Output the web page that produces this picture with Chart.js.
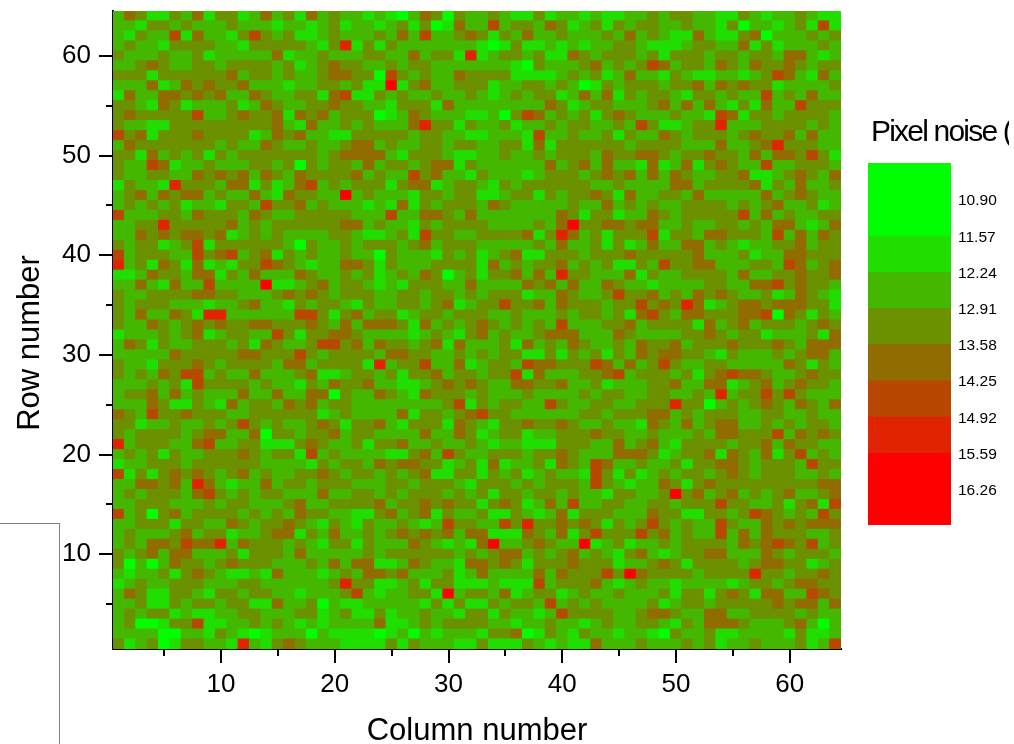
<!DOCTYPE html>
<html>
<head>
<meta charset="utf-8">
<title>Pixel noise</title>
<script src="https://cdn.jsdelivr.net/npm/chart.js@4/dist/chart.umd.min.js"></script>
<style>
html, body { margin: 0; padding: 0; background: #fff; overflow: hidden; }
#page { position: relative; width: 1014px; height: 744px; }
#heat { position: absolute; left: 0; top: 0; }
#bar { position: absolute; left: 860px; top: 150px; }
#barTitle { position: absolute; left: 871px; top: 114px; width: 138px; height: 40px; overflow: hidden; white-space: nowrap;
    font: 30px "Liberation Sans", Arial, sans-serif; letter-spacing: -1.8px; color: #000; }
#frameTop { position: absolute; left: 0; top: 523px; width: 60px; height: 1px; background: #808080; }
#frameSide { position: absolute; left: 59px; top: 523px; width: 1px; height: 221px; background: #808080; }
</style>
</head>
<body>
<div id="page">
    <canvas id="heat" width="1014" height="744"></canvas>
    <div id="frameTop"></div>
    <div id="frameSide"></div>
    <div id="barTitle">Pixel noise (</div>
    <canvas id="bar" width="149" height="390"></canvas>
</div>
<script>
// noise band of each pixel. Rows run from 64 (top) to 1 (bottom),
// leftCols holds columns 1-32 and rightCols columns 33-64
var leftCols = [
    '24311324133124231423221210243032', '22133232223222122123122123130142',
    '21322514221353231123222324252234', '23221333322133333213613132222222',
    '32223223122222412232223322423316', '22343223323333231234332232332222',
    '33313333334233232234433053232243', '22241243433422212233231171342233',
    '14224434342243223314511323223223', '33214312223124322334332213331422',
    '34333335223433414342333012432221', '32211333333333421422323222463313',
    '53413334333312434221133333233221', '24333333323224322322344232233233',
    '33142323132333333323444421333211', '32254122322233230323324233234413',
    '32233224343424324333342322534221', '13221633324413124523233313441233',
    '23424344232242143322723222133233', '23232312213325334232221214132333',
    '52223324333243223333322252244324', '22336333334232333333442322132333',
    '22434344341232322223321123153322', '32331235133333320322323332342333',
    '52333225345234132322322032221323', '62314314121335432122443132223333',
    '11243324413242224322323123243023', '22421422522227112342332121333224',
    '32233334433222343432333223323323', '32333222122342213233213223323412',
    '32422431662222225531342331233233', '32243234343344333432424443142323',
    '12223234123322531334432222123213', '24313223332314322355342433234142',
    '22222433333443335323333244332232', '32213334323333244233331623352241',
    '32324355232242223411233231334233', '22232315333323221324334221123434',
    '23342423222422422440322432143332', '22243113214233243423322222222351',
    '43253343332233333312322224133234', '33122322323532322343133421333143',
    '32333323442240332334233222242243', '62333224522331113432231334223223',
    '23231322333432331523222211342532', '12233323333332222132332434433123',
    '51313434323423223343233232341133', '22443426421224233233322233233321',
    '23233324532323322242233232333232', '22333222323322234223333423343433',
    '52303423333232324332211342341322', '22333133224323343213213223212533',
    '23222342331223441324223234343424', '23244354462433323213313222432121',
    '32342442223133324222223233333323', '30202433234333222324244112432214',
    '21223134321121422212324434222312', '12322333222332222223633112313311',
    '24311332133233221222352122331723', '22311323323311422302112222213131',
    '23233121122332223312311312232213', '23001335112232321212222411232333',
    '22220022132101222021111012021222', '31230133221621343222111131322211'
];
var rightCols = [
    '23211312212112232332211321223211', '25233243123132332232213022123151',
    '31324223222324232114211340222323', '10131121212233211123322413122232',
    '12332311432333231333233233244212', '22210322234232354233243243343233',
    '33311112323124221321122123542142', '31223323201323332334243433122223',
    '21232331242413233213323225232422', '22222243123322234242421314225333',
    '12035423231343222322154133233332', '22312232332232531123362223333232',
    '12221522322313224323332343342422', '22331413333332333322242234633322',
    '22322323332433443233433242443531', '22222242342422141241343225223332',
    '32221233323434242432233411234324', '21323333332232222442333341324223',
    '11233132334314223324222224234322', '24322222322423232233332323422312',
    '22222224313312243233333524232233', '32222324733443442232233232442124',
    '33334136423133351332443332524243', '22222324223131242244232122334233',
    '12341133323334333334222312244333', '14232334232311325334422233254234',
    '13342426332224132233332422334334', '22224342422432212222332244534332',
    '23331224322353342324343223124321', '33533424333233534364123443444331',
    '32232223233231453244333445043132', '43232325222334233331423423332343',
    '42322344422243222233432331222314', '22314232432232433423334333432444',
    '32331131323132434433213222323442', '23325443335424235322332222243132',
    '23351422233452333231345443223433', '32244334223122233422441234234332',
    '32223222232332233223262335353222', '32332253223322333633023234324324',
    '53322222233233344232333223322322', '21334334322322143242344223232332',
    '12331223334332232223244333524343', '21221113332242342133332334243322',
    '23332334322244431233414324135232', '14122314325422322313344323332533',
    '13231232215313123233234323332232', '33323233325321224313433333333344',
    '31332332322133223734234232342234', '13431242522332233233353322313415',
    '31132124133322243311332354323253', '22536334343132353232253224343444',
    '41114324135333534232252424333223', '47223432271231223233332434543523',
    '23442323423213421233442224323332', '43431333433312234313333234433123',
    '42222424333537433332333363323343', '12111523334212322122221233234433',
    '32412331232232223133134314422543', '13233252323222231233233333434424',
    '31322125333322344322442233332322', '32212232212322332132444322234202',
    '13340132132212210322311222213112', '31113212114222322232312232223125'
];
var bandColors = ['#00ff00', '#20de00', '#44b800', '#6b9000', '#916c00', '#b84700', '#e02300', '#ff0000'];
var bandEdges = [10.23, 11.57, 12.24, 12.91, 13.58, 14.25, 14.92, 15.59, 16.93];
var bandTicks = [10.90, 11.57, 12.24, 12.91, 13.58, 14.25, 14.92, 15.59, 16.26];
var majorTicks = [10, 20, 30, 40, 50, 60];
var minorTicks = [5, 15, 25, 35, 45, 55];
var fontName = '"Liberation Sans", Arial, sans-serif';

var cells = [];
var cellColors = [];
for (var r = 0; r < leftCols.length; r++) {
    var line = leftCols[r] + rightCols[r];
    var rowNo = 64 - r;
    for (var c = 0; c < line.length; c++) {
        cells.push({x: c + 1, y: [rowNo - 0.5, rowNo + 0.5]});
        cellColors.push(bandColors[parseInt(line[c])]);
    }
}

// origin style ticks: long at the labelled values, short between them
var tickMarks = {
    id: 'tickMarks',
    afterDraw: function (chart) {
        var ctx = chart.ctx;
        var area = chart.chartArea;
        ctx.save();
        ctx.strokeStyle = '#000';
        ctx.lineWidth = 2;
        function mark(list, len) {
            list.forEach(function (v) {
                var px = Math.round(chart.scales.x.getPixelForValue(v));
                var py = Math.round(chart.scales.y.getPixelForValue(v));
                ctx.beginPath();
                ctx.moveTo(px, area.bottom);
                ctx.lineTo(px, area.bottom + len);
                ctx.moveTo(area.left, py);
                ctx.lineTo(area.left - len, py);
                ctx.stroke();
            });
        }
        mark(majorTicks, 14);
        mark(minorTicks, 7);
        // the y title sits a bit below the middle of the axis, scale titles can't do that
        ctx.translate(30, 343);
        ctx.rotate(-Math.PI / 2);
        ctx.fillStyle = '#000';
        ctx.font = '31px ' + fontName;
        ctx.textAlign = 'center';
        ctx.textBaseline = 'middle';
        ctx.fillText('Row number', 0, 0);
        ctx.restore();
    }
};

function fixedTicks(list) {
    return function (scale) {
        scale.ticks = list.map(function (v) { return {value: v}; });
    };
}

// no extra room for labels at the ends, the plot box is fixed
function fixSize(width, height) {
    return function (scale) {
        if (width) scale.width = width;
        if (height) scale.height = height;
        scale.paddingTop = scale.paddingBottom = scale.paddingLeft = scale.paddingRight = 0;
    };
}

new Chart(document.getElementById('heat').getContext('2d'), {
    type: 'bar',
    data: {
        datasets: [{
            data: cells,
            backgroundColor: cellColors,
            borderWidth: 0,
            inflateAmount: 0.5,
            barPercentage: 1,
            categoryPercentage: 1
        }]
    },
    options: {
        responsive: false,
        animation: false,
        events: [],
        layout: {padding: {left: 0, right: 173, top: 11, bottom: 0}},
        plugins: {legend: {display: false}, tooltip: {enabled: false}},
        scales: {
            x: {
                type: 'linear',
                offset: false,
                min: 0.5,
                max: 64.5,
                afterBuildTicks: fixedTicks(majorTicks),
                afterFit: fixSize(0, 95),
                grid: {display: false, drawTicks: false},
                border: {display: true, color: '#000', width: 2},
                ticks: {color: '#000', padding: 20, maxRotation: 0, font: {family: fontName, size: 26}},
                title: {display: true, text: 'Column number', color: '#000', font: {family: fontName, size: 31, lineHeight: 1}, padding: {top: 0, bottom: -3}}
            },
            y: {
                type: 'linear',
                offset: false,
                min: 0.5,
                max: 64.5,
                afterBuildTicks: fixedTicks(majorTicks),
                afterFit: fixSize(113, 0),
                grid: {display: false, drawTicks: false},
                border: {display: true, color: '#000', width: 2},
                ticks: {color: '#000', padding: 22, font: {family: fontName, size: 26}}
            }
        }
    },
    plugins: [tickMarks]
});

var bandSets = bandColors.map(function (col, i) {
    return {
        data: [[bandEdges[i], bandEdges[i + 1]]],
        backgroundColor: col,
        borderWidth: 0,
        inflateAmount: 0.3,
        barPercentage: 1,
        categoryPercentage: 1
    };
});

new Chart(document.getElementById('bar').getContext('2d'), {
    type: 'bar',
    data: {labels: [''], datasets: bandSets},
    options: {
        responsive: false,
        animation: false,
        events: [],
        grouped: false,
        layout: {padding: {left: 8, right: 0, top: 13, bottom: 15}},
        plugins: {legend: {display: false}, tooltip: {enabled: false}},
        scales: {
            x: {display: false},
            y: {
                position: 'right',
                reverse: true,
                min: bandEdges[0],
                max: bandEdges[bandEdges.length - 1],
                afterBuildTicks: fixedTicks(bandTicks),
                afterFit: fixSize(58, 0),
                grid: {display: false, drawTicks: false},
                border: {display: false},
                ticks: {
                    color: '#000',
                    padding: 7,
                    labelOffset: 2,
                    font: {family: fontName, size: 15.5},
                    callback: function (v) { return v.toFixed(2); }
                }
            }
        }
    }
});
</script>
</body>
</html>
